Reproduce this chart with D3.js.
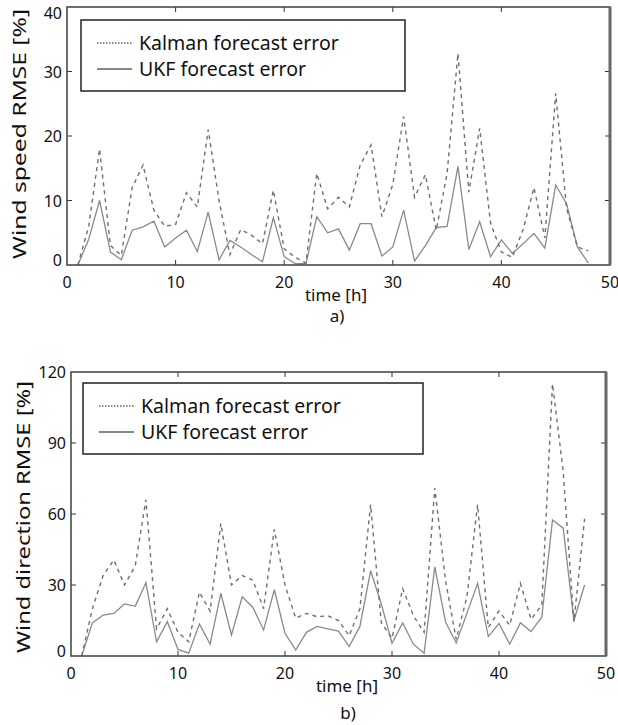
<!DOCTYPE html>
<html>
<head>
<meta charset="utf-8">
<script src="https://cdn.jsdelivr.net/npm/d3@7"></script>
<style>
  body { margin: 0; background: #fff; }
  svg { display: block; }
  text { font-family: "Noto Sans", sans-serif; fill: #111; }
</style>
</head>
<body>
<div id="chart"></div>
<script>
const hours = [1, 2, 3, 4, 5, 6, 7, 8, 9, 10, 11, 12, 13, 14, 15, 16, 17, 18, 19, 20, 21, 22, 23, 24,
  25, 26, 27, 28, 29, 30, 31, 32, 33, 34, 35, 36, 37, 38, 39, 40, 41, 42, 43, 44, 45, 46, 47, 48];

// a) wind speed RMSE [%]
const speedKalman = [0, 6, 18, 3, 1.5, 12, 15.5, 8.5, 6, 6.3, 11.2, 9, 21, 10, 1.6, 5.5, 4.6, 3.3, 11.6, 2.5,
  1.2, 0.3, 14.2, 8.7, 10.5, 9, 15.5, 18.6, 7.5, 12.5, 23, 10.5, 14, 5.4, 14.2, 32.8, 11.3, 21.2, 6.5, 2,
  1.2, 5.5, 12, 4.2, 26.6, 8.8, 2.8, 2.2];
const speedUkf = [0, 4, 10, 2, 0.8, 5.4, 5.9, 6.8, 2.8, 4.2, 5.4, 2.1, 8.2, 0.8, 3.8, 2.8, 1.6, 0.5, 7.3, 1.3,
  0.2, 0.2, 7.5, 5, 5.6, 2.3, 6.4, 6.4, 1.4, 2.8, 8.5, 0.6, 3, 5.8, 6, 15.3, 2.4, 6.7, 1.3, 3.9,
  1.8, 3.3, 4.9, 2.6, 12.4, 9.5, 2.8, 0.3];

// b) wind direction RMSE [%]
const dirKalman = [0, 20, 34, 40.6, 30, 38, 66, 11.5, 20, 10, 6, 27, 19, 56, 30, 34, 32, 20, 53.5, 30,
  16, 18, 16.6, 17, 15, 8.5, 20, 64, 14, 7.5, 28.5, 17, 10, 71, 32, 7, 25, 64, 12, 19,
  13, 30.7, 15.5, 21.5, 115, 78, 14.5, 58];
const dirUkf = [0, 14, 17.3, 18, 22, 21, 31, 6, 14.5, 2.8, 1.2, 13.5, 5, 26.5, 8.9, 25, 20.5, 11, 28, 9.6,
  2.5, 10, 12.5, 11.5, 10.5, 4, 12.5, 36, 22, 5.4, 14, 5, 1.2, 37.7, 14.5, 5.5, 18, 30.7, 8.2, 13.8,
  5, 14, 10.3, 16.5, 57.5, 54, 15, 30];

const xTicks = [0, 10, 20, 30, 40, 50];
const speedTicks = [0, 10, 20, 30, 40];
const dirTicks = [0, 30, 60, 90, 120];
const legendLabels = ["Kalman forecast error", "UKF forecast error"];

const svg = d3.select("#chart").append("svg")
  .attr("width", 618).attr("height", 725);

function panel(p) {
  const x = d3.scaleLinear().domain([0, 50]).range([p.left, p.right]);
  const y = d3.scaleLinear().domain(p.yDomain).range([p.bottom, p.top]);
  const g = svg.append("g");

  const line = d3.line().x((d, i) => x(hours[i])).y(d => y(d));

  g.append("path").datum(p.ukf)
    .attr("d", line).attr("fill", "none")
    .attr("stroke", "#8a8a8a").attr("stroke-width", 1.3);
  g.append("path").datum(p.kalman)
    .attr("d", line).attr("fill", "none")
    .attr("stroke", "#707070").attr("stroke-width", 1.4)
    .attr("stroke-dasharray", "4,4");

  // inner ticks on all four sides, matlab style
  const tl = 5;
  xTicks.slice(1, -1).forEach(t => {
    g.append("line").attr("x1", x(t)).attr("x2", x(t)).attr("y1", p.bottom).attr("y2", p.bottom - tl).attr("stroke", "#333");
    g.append("line").attr("x1", x(t)).attr("x2", x(t)).attr("y1", p.top).attr("y2", p.top + tl).attr("stroke", "#333");
  });
  p.yTicks.slice(1, -1).forEach(t => {
    g.append("line").attr("x1", p.left).attr("x2", p.left + tl).attr("y1", y(t)).attr("y2", y(t)).attr("stroke", "#333");
    g.append("line").attr("x1", p.right).attr("x2", p.right - tl).attr("y1", y(t)).attr("y2", y(t)).attr("stroke", "#333");
  });

  g.append("rect")
    .attr("x", p.left).attr("y", p.top)
    .attr("width", p.right - p.left).attr("height", p.bottom - p.top)
    .attr("fill", "none").attr("stroke", "#4a4a4a").attr("stroke-width", 1.6);
  g.append("line").attr("x1", p.right).attr("x2", p.right).attr("y1", p.top).attr("y2", p.bottom)
    .attr("stroke", "#666").attr("stroke-width", 3);

  // tick labels
  xTicks.forEach(t => {
    g.append("text").attr("x", x(t)).attr("y", p.bottom + 23)
      .attr("text-anchor", "middle").attr("font-size", 16).text(t);
  });
  p.yTicks.forEach((t, i) => {
    let yy = y(t) + 6;
    if (i === 0) yy -= 5;
    if (i === p.yTicks.length - 1) yy += p.topShift;
    g.append("text").attr("x", p.left - 5).attr("y", yy)
      .attr("text-anchor", "end").attr("font-size", 16).text(t);
  });

  // axis titles
  g.append("text").attr("x", p.xTitleX).attr("y", p.bottom + 36)
    .attr("text-anchor", "middle").attr("font-size", 17).text("time [h]");
  g.append("text").attr("x", p.xTitleX + 1).attr("y", p.bottom + p.capY)
    .attr("text-anchor", "middle").attr("font-size", 17).text(p.caption);
  g.append("text")
    .attr("transform", `translate(${p.yTitleX},${p.yTitleMid}) rotate(-90)`)
    .attr("text-anchor", "middle").attr("font-size", 18)
    .attr("textLength", p.yTitleLen).attr("lengthAdjust", "spacingAndGlyphs")
    .text(p.yTitle);

  // legend
  const lg = g.append("g");
  lg.append("rect").attr("x", p.legend[0]).attr("y", p.legend[1])
    .attr("width", p.legend[2]).attr("height", p.legend[3])
    .attr("fill", "#fff").attr("stroke", "#222").attr("stroke-width", 1.5);
  legendLabels.forEach((lab, i) => {
    const ly = p.legend[1] + 23 + i * 26;
    lg.append("line").attr("x1", p.legend[0] + 16).attr("x2", p.legend[0] + 51)
      .attr("y1", ly).attr("y2", ly)
      .attr("stroke", "#111").attr("stroke-width", 1)
      .attr("stroke-dasharray", i === 0 ? "1.5,1.5" : null);
    lg.append("text").attr("x", p.legend[0] + 58).attr("y", ly + 7)
      .attr("font-size", 19.5).text(lab);
  });
}

panel({
  left: 67, right: 610, top: 7, bottom: 265,
  yDomain: [0, 40], yTicks: speedTicks, topShift: 6,
  kalman: speedKalman, ukf: speedUkf,
  legend: [81, 20, 324, 71],
  xTitleX: 336, capY: 57, caption: "a)",
  yTitleX: 26, yTitleMid: 134, yTitleLen: 250, yTitle: "Wind speed RMSE [%]"
});

panel({
  left: 71, right: 606, top: 372, bottom: 656,
  yDomain: [0, 120], yTicks: dirTicks, topShift: 0,
  kalman: dirKalman, ukf: dirUkf,
  legend: [83, 383, 340, 71],
  xTitleX: 347, capY: 63, caption: "b)",
  yTitleX: 30, yTitleMid: 517, yTitleLen: 272, yTitle: "Wind direction RMSE [%]"
});
</script>
</body>
</html>
